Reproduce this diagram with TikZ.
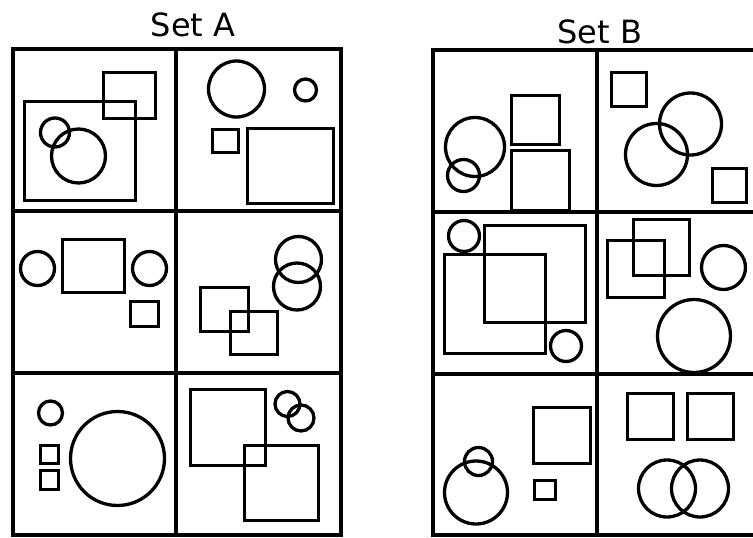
\documentclass[tikz,border=0pt]{standalone}
\usepackage{fontspec}
\setmainfont{DejaVu Sans}
\begin{document}
\begin{tikzpicture}[x=1pt,y=-1pt,line width=3pt,
  frame/.style={draw=black,line width=3.6pt},
  shp/.style={draw=black,line width=3.3pt},
  title/.style={font=\fontsize{32}{36}\selectfont,anchor=base,inner sep=0pt}]
\useasboundingbox (0,0) rectangle (753,538);
% titles
\node[title] (ta) at (193,36.5) {Set A};
\node[title] (tb) at (600,43) {Set B};
% Set A grid
\draw[frame] (13,49) rectangle (341,535);
\draw[frame] (176,49) -- (176,535);
\draw[frame] (13,211) -- (341,211);
\draw[frame] (13,373) -- (341,373);
% Set B grid
\draw[frame] (433,50) rectangle (762,535);
\draw[frame] (597,50) -- (597,535);
\draw[frame] (433,212) -- (762,212);
\draw[frame] (433,374) -- (762,374);
% ---- Set A cell 1,1
\draw[shp] (24.5,101.5) rectangle (135.5,200.5);
\draw[shp] (103.5,72.5) rectangle (155.5,118.5);
\draw[shp] (55,132.5) circle (14.5);
\draw[shp] (78.5,156) circle (27);
% ---- Set A cell 1,2
\draw[shp] (236.5,89) circle (28);
\draw[shp] (305.5,90) circle (11);
\draw[shp] (212.5,129.5) rectangle (238.5,152.5);
\draw[shp] (247.5,128.5) rectangle (333.5,203.5);
% ---- Set A cell 2,1
\draw[shp] (37.5,268.5) circle (17);
\draw[shp] (62.5,239.5) rectangle (124.5,292.5);
\draw[shp] (149.5,268.5) circle (17);
\draw[shp] (130.5,301.5) rectangle (158.5,326.5);
% ---- Set A cell 2,2
\draw[shp] (298.5,259.5) circle (23);
\draw[shp] (297,286.5) circle (23.5);
\draw[shp] (200.5,287.5) rectangle (248.5,331.5);
\draw[shp] (230.5,311.5) rectangle (277.5,354.5);
% ---- Set A cell 3,1
\draw[shp] (50.5,413) circle (12);
\draw[shp] (40.5,445.5) rectangle (58.5,463.5);
\draw[shp] (40.5,470.5) rectangle (58.5,489.5);
\draw[shp] (117.5,458.5) circle (47);
% ---- Set A cell 3,2
\draw[shp] (190.5,389.5) rectangle (265.5,465.5);
\draw[shp] (244.5,445.5) rectangle (318.5,520.5);
\draw[shp] (287.5,404) circle (12.5);
\draw[shp] (301,418) circle (13);
% ---- Set B cell 1,1
\draw[shp] (475,147) circle (29.5);
\draw[shp] (463.5,175.5) circle (16);
\draw[shp] (511.5,95.5) rectangle (559.5,144.5);
\draw[shp] (511.5,150.5) rectangle (569.5,211);
% ---- Set B cell 1,2
\draw[shp] (611.5,72.5) rectangle (646.5,106.5);
\draw[shp] (690.5,124) circle (31);
\draw[shp] (656.5,154.5) circle (31);
\draw[shp] (712.5,168.5) rectangle (746.5,202.5);
% ---- Set B cell 2,1
\draw[shp] (464,236) circle (15.5);
\draw[shp] (484.5,225.5) rectangle (585.5,322.5);
\draw[shp] (444.5,254.5) rectangle (545.5,353.5);
\draw[shp] (566,346) circle (15.5);
% ---- Set B cell 2,2
\draw[shp] (633.5,219.5) rectangle (689.5,275.5);
\draw[shp] (607.5,240.5) rectangle (664.5,297.5);
\draw[shp] (723.5,267.5) circle (22);
\draw[shp] (694,336) circle (36.5);
% ---- Set B cell 3,1
\draw[shp] (476,492.5) circle (31.5);
\draw[shp] (478.5,461.5) circle (14);
\draw[shp] (533.5,407.5) rectangle (590.5,463.5);
\draw[shp] (534.5,480.5) rectangle (555.5,499.5);
% ---- Set B cell 3,2
\draw[shp] (627.5,393.5) rectangle (673.5,439.5);
\draw[shp] (687.5,393.5) rectangle (733.5,439.5);
\draw[shp] (667,488.5) circle (28.5);
\draw[shp] (700,488.5) circle (28.5);
\end{tikzpicture}
\end{document}
